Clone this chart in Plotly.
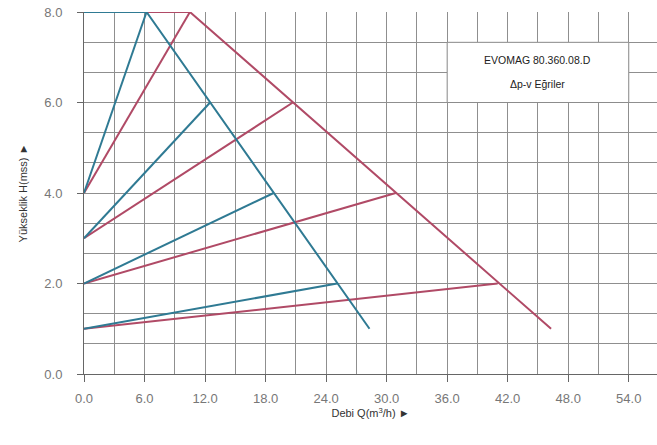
import plotly.graph_objects as go

# Data
start_h = [1.0, 2.0, 3.0, 4.0]           # H at Q=0 for each Δp-v curve
blue_peak_q = [25.1, 18.8, 12.5, 6.2]    # Q at end of blue Δp-v lines
red_peak_q = [41.0, 30.9, 20.7, 10.5]    # Q at end of red Δp-v lines
peak_h = [2.0, 4.0, 6.0, 8.0]            # H at end of Δp-v lines
blue_max_q = [0.0, 6.2, 28.3]            # blue max curve
blue_max_h = [8.0, 8.0, 1.0]
red_max_q = [0.0, 10.5, 46.3]            # red max curve
red_max_h = [8.0, 8.0, 1.0]
x_ticks = [0, 6, 12, 18, 24, 30, 36, 42, 48, 54]
y_ticks = [0, 2, 4, 6, 8]

BLUE = "#2f7a93"
RED = "#b04a66"
FONT = "Liberation Sans, Arial, sans-serif"

fig = go.Figure()

def add_set(peak_q, max_q, max_h, color):
    for h0, q1, h1 in zip(start_h, peak_q, peak_h):
        fig.add_trace(go.Scatter(x=[0, q1], y=[h0, h1], mode="lines",
                                 line=dict(color=color, width=2), showlegend=False,
                                 hoverinfo="skip"))
    fig.add_trace(go.Scatter(x=max_q, y=max_h, mode="lines",
                             line=dict(color=color, width=2), showlegend=False,
                             hoverinfo="skip"))

add_set(red_peak_q, red_max_q, red_max_h, RED)
add_set(blue_peak_q, blue_max_q, blue_max_h, BLUE)

# Info box
fig.add_shape(type="rect", x0=36, x1=54, y0=6.0, y1=7.33, xref="x", yref="y",
              fillcolor="white", line=dict(color="#8c8c8c", width=1), layer="above")
fig.add_annotation(x=45, y=6.93, xref="x", yref="y", text="EVOMAG 80.360.08.D",
                   showarrow=False, font=dict(family=FONT, size=10.5, color="#222"))
fig.add_annotation(x=45, y=6.4, xref="x", yref="y", text="Δp-v Eğriler",
                   showarrow=False, font=dict(family=FONT, size=10.5, color="#222"))

grid_color = "#8f8f8f"
fig.update_layout(
    width=657, height=445,
    margin=dict(l=84, r=0, t=12, b=71),
    paper_bgcolor="white", plot_bgcolor="white",
    font=dict(family=FONT, size=13, color="#777"),
    xaxis=dict(range=[0, 56.8], tickvals=x_ticks, automargin=False,
               ticktext=[f"{v:.1f}" for v in x_ticks], ticklabelstandoff=5,
               ticklabeloverflow="allow",
               showgrid=True, gridcolor=grid_color, gridwidth=1,
               minor=dict(dtick=3, tick0=0, showgrid=True, gridcolor=grid_color, gridwidth=1),
               ticks="outside", ticklen=7, tickcolor="#666",
               showline=True, linecolor="#666", linewidth=1, zeroline=False,
               title=dict(text="Debi Q(m<sup>3</sup>/h) ►", standoff=0,
                          font=dict(family=FONT, size=11, color="#333"))),
    yaxis=dict(range=[0, 8], tickvals=y_ticks, automargin=False,
               ticktext=[f"{v:.1f}" for v in y_ticks], ticklabelstandoff=12,
               ticklabeloverflow="allow",
               showgrid=True, gridcolor=grid_color, gridwidth=1,
               minor=dict(dtick=2/3, tick0=0, showgrid=True, gridcolor=grid_color, gridwidth=1),
               ticks="outside", ticklen=6, tickcolor="#666",
               showline=True, linecolor="#666", linewidth=1, zeroline=False,
               title=dict(text="Yükseklik H(mss) ►", standoff=14,
                          font=dict(family=FONT, size=11, color="#333"))),
)

fig.write_html("out.html", config={"displayModeBar": False},
               post_script="document.body.style.margin='0';document.body.style.overflow='hidden';")
